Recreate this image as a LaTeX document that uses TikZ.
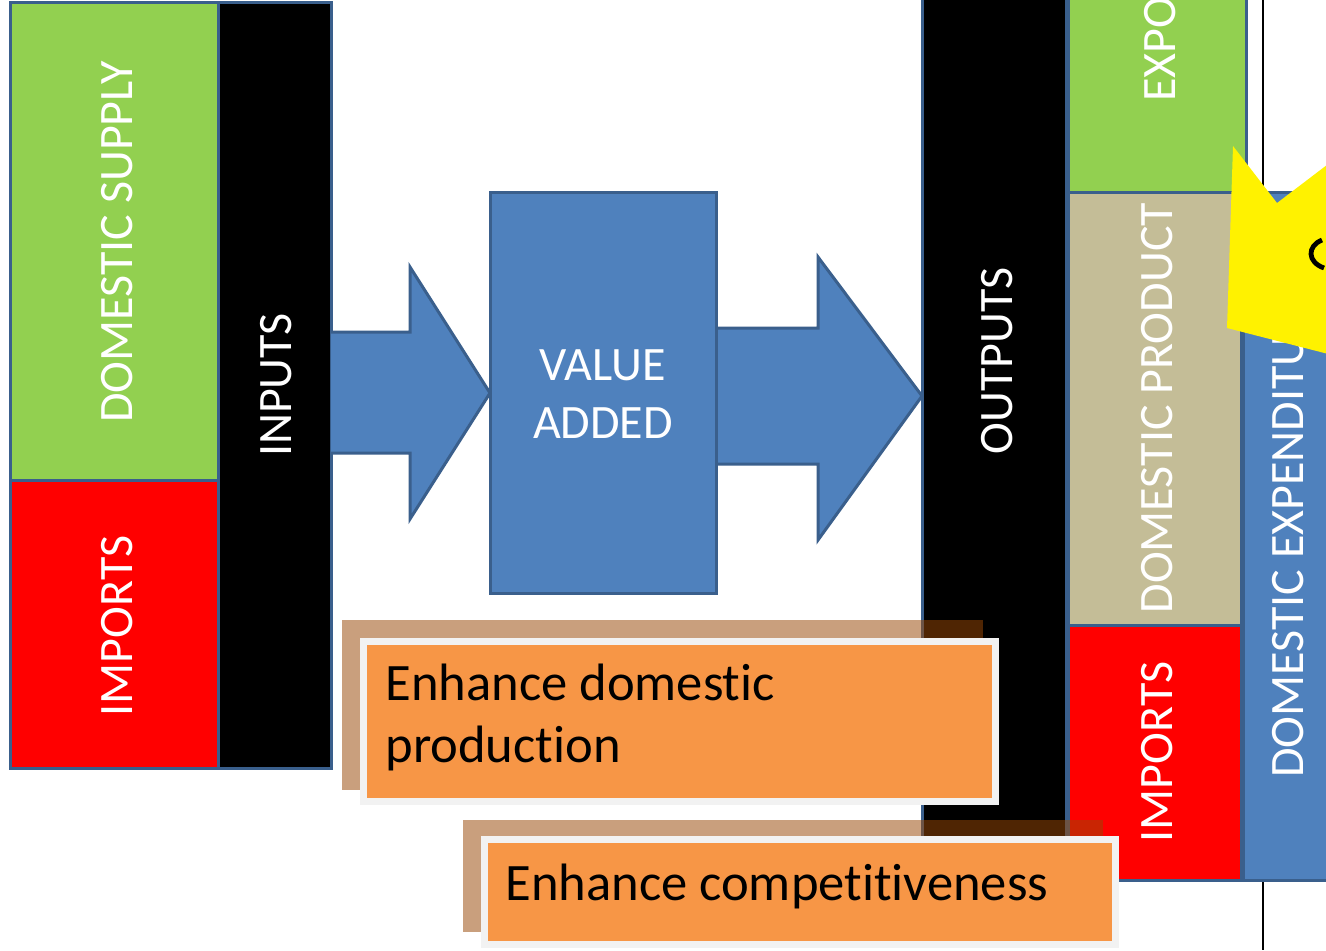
\documentclass[tikz,border=0pt]{standalone}
\usepackage{fontspec}
\setmainfont[Ligatures=NoCommon]{Carlito}
\definecolor{bord}{HTML}{3A5F8C}
\definecolor{grn}{HTML}{92D050}
\definecolor{rd}{HTML}{FF0000}
\definecolor{tan}{HTML}{C4BD97}
\definecolor{blu}{HTML}{4F81BD}
\definecolor{org}{HTML}{F79646}
\definecolor{shd}{HTML}{984807}
\definecolor{wbord}{HTML}{F2F2F2}
\begin{document}
\begin{tikzpicture}[x=0.5pt,y=-0.5pt,
  blk/.style={draw=bord, line width=1.5pt},
  vtext/.style={rotate=90, text=white, inner sep=0pt, font=\fontsize{24}{28}\selectfont},
  htext/.style={text=white, inner sep=0pt, font=\fontsize{24}{29}\selectfont, align=center},
  shadowbox/.style={fill=shd, fill opacity=0.52},
  orangebox/.style={fill=org, draw=wbord, line width=3.5pt},
  btext/.style={text=black, inner sep=0pt, font=\fontsize{26.3}{31}\selectfont, align=left}]
\useasboundingbox (0,0) rectangle (1326,950);
\fill[white] (0,0) rectangle (1326,950);
% thin frame line
\draw[black, line width=0.6pt] (1263,0) -- (1263,950);
% left group
\draw[blk, fill=grn] (10,2) rectangle (218,480);
\draw[blk, fill=rd] (10,480) rectangle (218,768);
\draw[blk, fill=black] (218,2) rectangle (331,768);
\node[vtext] (ds) at (117,242) {DOMESTIC SUPPLY};
\node[vtext] (imp1) at (117,626) {IMPORTS};
\node[vtext] (inp) at (276,385) {INPUTS};
% block arrows
\draw[blk, fill=blu, line join=miter] (331,332) -- (410,332) -- (410,267) -- (490,393) -- (410,519) -- (410,453) -- (331,453);
\fill[blu] (333,334) rectangle (412,451);
\draw[blk, fill=blu, line join=miter] (716,328) -- (818,328) -- (818,257) -- (922,396) -- (818,540) -- (818,464) -- (716,464);
% value added
\draw[blk, fill=blu] (490,192) rectangle (716,593);
\node[htext] (va) at (603,394) {VALUE\\ADDED};
% outputs
\draw[blk, fill=black] (922,-5) rectangle (1066,885);
\node[vtext] (out) at (997,361) {OUTPUTS};
% right group
\draw[blk, fill=grn] (1068,-5) rectangle (1246,192);
\draw[blk, fill=tan] (1068,192) rectangle (1241,625);
\draw[blk, fill=rd] (1068,625) rectangle (1241,880);
\draw[blk, fill=blu] (1243,192) rectangle (1330,880);
\node[vtext, anchor=west] (exp) at (1160,102) {EXPORTS};
\node[vtext] (dp) at (1157,408) {DOMESTIC PRODUCT};
\node[vtext] (imp2) at (1157,752) {IMPORTS};
\node[vtext, anchor=west] (de) at (1288,778) {DOMESTIC EXPENDITURE};
% yellow burst
\fill[yellow] (1233,146) -- (1277,203) -- (1340,155) -- (1340,357) -- (1227,328) -- cycle;
\draw[black, line width=2.4pt] (1322,240) .. controls (1307,246) and (1307,262) .. (1324,268);
% text boxes
\fill[shadowbox] (342,620) rectangle (983,790);
\draw[orangebox] (363,641) rectangle (995,801);
\node[btext, anchor=north west] (t1) at (385,664) {Enhance domestic\\production};
\fill[shadowbox] (463,820) rectangle (1103,932);
\draw[orangebox] (484,839) rectangle (1115,944);
\node[btext, anchor=north west] (t2) at (505,864) {Enhance competitiveness};
\end{tikzpicture}
\end{document}
